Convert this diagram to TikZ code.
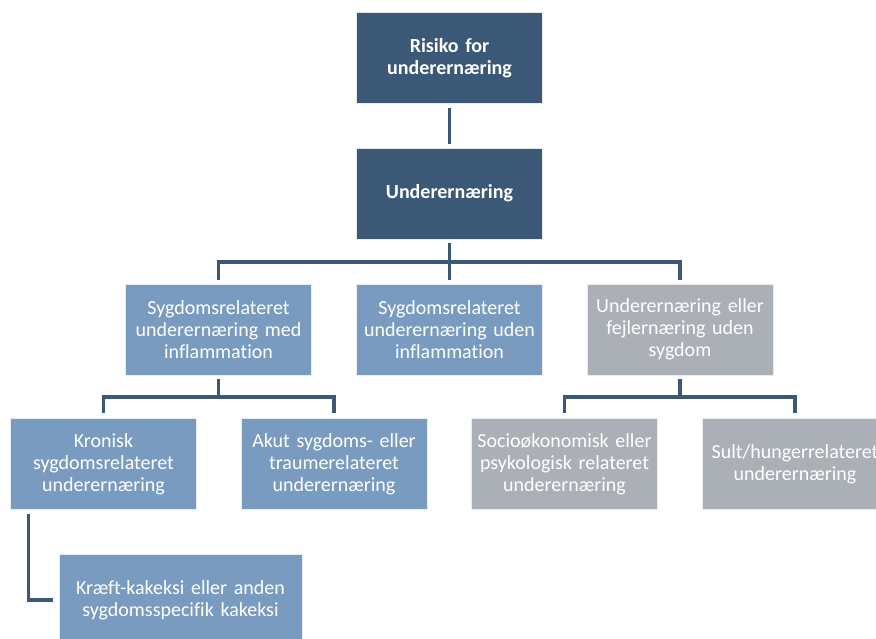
\documentclass[tikz,border=0pt]{standalone}
\usepackage{fontspec}
\setmainfont{Carlito}[Ligatures=NoCommon]
\definecolor{navy}{HTML}{3C5877}
\definecolor{paleblue}{HTML}{7A9BC0}
\definecolor{slate}{HTML}{AAB0B6}
\tikzset{
  box/.style={minimum width=186pt, minimum height=91pt, inner sep=0pt, text width=182pt,
    align=center, text=white, draw=white!85!gray, line width=0.6pt,
    font=\fontsize{20pt}{22pt}\selectfont},
  topbox/.style={box, fill=navy, font=\fontsize{20pt}{22pt}\selectfont\bfseries},
  bluebox/.style={box, fill=paleblue},
  greybox/.style={box, fill=slate},
  link/.style={draw=navy, line width=3.5pt}
}
\begin{document}
\begin{tikzpicture}[x=1pt,y=-1pt]
\useasboundingbox (0,0) rectangle (876,638);
\node[topbox] (risk) at (449.5,58) {Risiko for\\underernæring};
\node[topbox] (under) at (449.5,193.5) {Underernæring};
\node[bluebox] (med) at (218.5,329.5) {Sygdomsrelateret\\underernæring med\\inflammation};
\node[bluebox] (uden) at (449.5,329.5) {Sygdomsrelateret\\underernæring uden\\inflammation};
\node[greybox] (nodisease) at (680,329.5) {Underernæring eller\\fejlernæring uden\\sygdom};
\node[bluebox] (chronic) at (103.5,464) {Kronisk\\sygdomsrelateret\\underernæring};
\node[bluebox] (acute) at (334,464) {Akut sygdoms- eller\\traumerelateret\\underernæring};
\node[greybox] (socio) at (564.5,464) {Socioøkonomisk eller\\psykologisk relateret\\underernæring};
\node[greybox] (hunger) at (795,464) {Sult/hungerrelateret\\underernæring};
\node[bluebox, minimum width=243pt, minimum height=92pt, text width=236pt] (cancer) at (180.5,600) {Kræft-kakeksi eller anden\\sygdomsspecifik kakeksi};
% connectors
\coordinate (bar1) at (449.5,262);
\coordinate (bar2) at (218.5,397);
\coordinate (bar3) at (680,397);
\draw[link] ([yshift=-4pt]risk.south) -- ([yshift=4pt]under.north);
\draw[link] ([yshift=-4pt]under.south) -- ([yshift=4pt]uden.north);
\draw[link] ([yshift=4pt]med.north) |- (bar1) -| ([yshift=4pt]nodisease.north);
\draw[link] ([yshift=-4pt]med.south) -- (bar2);
\draw[link] ([yshift=5pt]chronic.north) |- (bar2) -| ([yshift=5pt]acute.north);
\draw[link] ([yshift=-4pt]nodisease.south) -- (bar3);
\draw[link] ([yshift=5pt]socio.north) |- (bar3) -| ([yshift=5pt]hunger.north);
\draw[link] ([xshift=-75pt,yshift=-4pt]chronic.south) |- ([xshift=-6pt]cancer.west);
\end{tikzpicture}
\end{document}
